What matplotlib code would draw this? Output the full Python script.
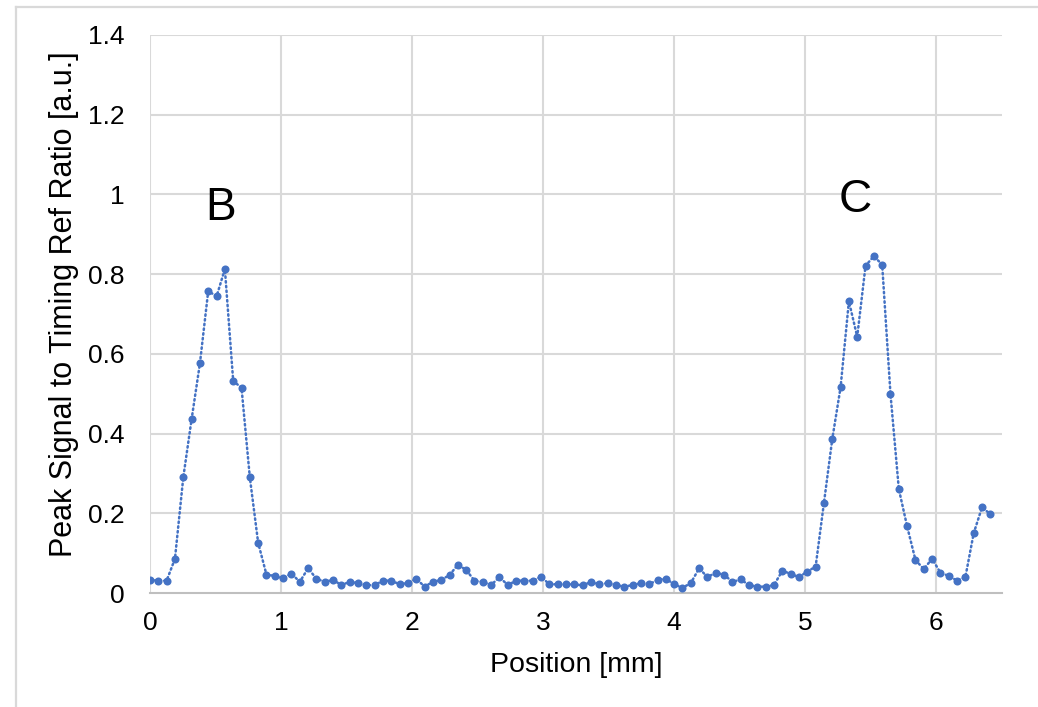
import numpy as np
import matplotlib
matplotlib.use("Agg")
import matplotlib.pyplot as plt
from matplotlib.lines import Line2D

plt.rcParams['font.family'] = ['Liberation Sans', 'DejaVu Sans']

# Scan step along the sample (mm)
step_mm = 0.0635

ratio = [
    0.033, 0.031, 0.031, 0.086, 0.290, 0.436, 0.576, 0.758, 0.744, 0.813,
    0.532, 0.515, 0.290, 0.126, 0.046, 0.043, 0.037, 0.049,
    0.028, 0.062, 0.036, 0.028, 0.033, 0.020, 0.028, 0.025, 0.020, 0.020,
    0.031, 0.031, 0.022, 0.025, 0.036, 0.016, 0.028, 0.033, 0.045, 0.071,
    0.058, 0.031, 0.028, 0.020, 0.040, 0.020, 0.031, 0.031, 0.031, 0.041,
    0.022, 0.022, 0.022, 0.022, 0.019, 0.028, 0.022, 0.025, 0.020, 0.016,
    0.020, 0.025, 0.022, 0.033, 0.036, 0.022, 0.013, 0.025, 0.062, 0.040,
    0.051, 0.046, 0.028, 0.034, 0.020, 0.016, 0.016, 0.020, 0.056, 0.048,
    0.040, 0.054, 0.066,
    0.226, 0.386, 0.516, 0.732, 0.643, 0.821, 0.845, 0.824, 0.499, 0.261,
    0.167, 0.083, 0.060, 0.086, 0.051, 0.043, 0.031, 0.040, 0.150, 0.215,
    0.198,
]
position = np.arange(len(ratio)) * step_mm

peak_labels = ["B", "C"]
peak_label_pos = [(0.54, 0.965), (5.38, 0.985)]

x_ticks = [0, 1, 2, 3, 4, 5, 6]
y_ticks = [0, 0.2, 0.4, 0.6, 0.8, 1.0, 1.2, 1.4]
y_tick_labels = ["0", "0.2", "0.4", "0.6", "0.8", "1", "1.2", "1.4"]

fig = plt.figure(figsize=(10.38, 7.07), dpi=100)
ax = fig.add_axes([0.1445, 0.1612, 0.8205, 0.7893])

grid_c = "#D9D9D9"
for xv in x_ticks:
    ax.axvline(xv, color=grid_c, lw=1.5, zorder=0)
for yv in y_ticks[1:]:
    ax.axhline(yv, color=grid_c, lw=1.5, zorder=0)

blue = "#4472C4"
ax.plot(position, ratio, color=blue, lw=1.8, linestyle=(0, (0.6, 1.3)),
        dash_capstyle="round", marker="o", markersize=5.8,
        markeredgewidth=0, zorder=3)

for lbl, (px, py) in zip(peak_labels, peak_label_pos):
    ax.text(px, py, lbl, fontsize=33, ha="center", va="center", color="black")

ax.set_xlim(0, 6.5)
ax.set_ylim(0, 1.4)
ax.set_xticks(x_ticks)
ax.set_yticks(y_ticks)
ax.set_yticklabels(y_tick_labels)
ax.tick_params(axis="both", length=0, labelsize=19, colors="black")
ax.tick_params(axis="x", pad=13)
ax.tick_params(axis="y", pad=18.5)

for s in ["top", "right", "left"]:
    ax.spines[s].set_visible(False)
ax.spines["bottom"].set_color("#BFBFBF")
ax.spines["bottom"].set_linewidth(1.5)

ax.set_xlabel("Position [mm]", fontsize=20.5, labelpad=12)
ax.set_ylabel("Peak Signal to Timing Ref Ratio [a.u.]", fontsize=22,
              labelpad=6, y=0.518, ha="center")

# Chart-area frame along the top and left edges
W, H = 1038, 707
fig.add_artist(Line2D([16 / W, 1.0], [1 - 6.5 / H, 1 - 6.5 / H],
                      transform=fig.transFigure, color=grid_c, lw=1.6))
fig.add_artist(Line2D([16 / W, 16 / W], [0.0, 1 - 6.5 / H],
                      transform=fig.transFigure, color=grid_c, lw=1.6))

fig.savefig("out.png", dpi=100)
